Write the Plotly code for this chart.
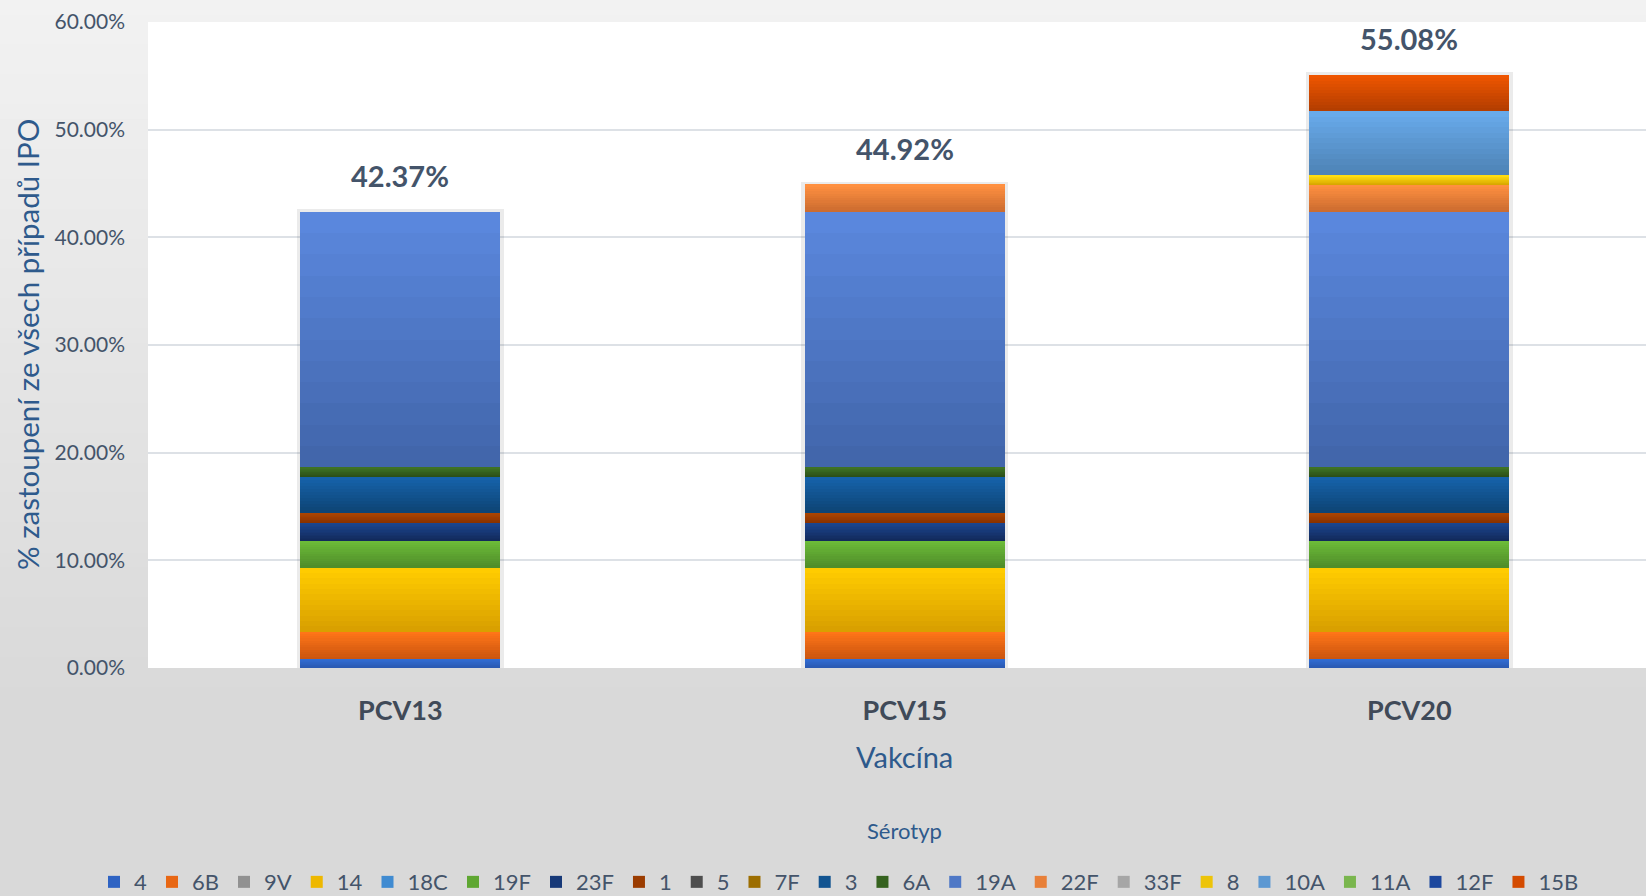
import plotly.graph_objects as go

# ---------------- data ----------------
categories = ["PCV13", "PCV15", "PCV20"]
serotypes = ["4", "6B", "9V", "14", "18C", "19F", "23F", "1", "5", "7F",
             "3", "6A", "19A", "22F", "33F", "8", "10A", "11A", "12F", "15B"]
# % share of all IPD cases, per serotype (same order as serotypes)
pcv13 = [0.85, 2.54, 0.0, 5.93, 0.0, 2.54, 1.69, 0.85, 0.0, 0.0,
         3.39, 0.85, 23.73, 0.0, 0.0, 0.0, 0.0, 0.0, 0.0, 0.0]
pcv15 = [0.85, 2.54, 0.0, 5.93, 0.0, 2.54, 1.69, 0.85, 0.0, 0.0,
         3.39, 0.85, 23.73, 2.54, 0.0, 0.0, 0.0, 0.0, 0.0, 0.0]
pcv20 = [0.85, 2.54, 0.0, 5.93, 0.0, 2.54, 1.69, 0.85, 0.0, 0.0,
         3.39, 0.85, 23.73, 2.54, 0.0, 0.85, 5.93, 0.0, 0.0, 3.39]
total_labels = ["42.37%", "44.92%", "55.08%"]

# gradient colours (top, bottom) per serotype
top_colors = ["#316cd2", "#ff7518", "#a0a0a0", "#ffcc00", "#4a9ae0", "#6cbb38",
              "#1c4690", "#aa4400", "#5a5a5a", "#ad7b00", "#1662aa", "#3e7224",
              "#5a87dd", "#ff9040", "#b4b4b4", "#ffdc10", "#68aaea", "#88c85a",
              "#2252b0", "#ee5500"]
bottom_colors = ["#2a58b0", "#cc560f", "#7f7f7f", "#d9a000", "#3479c0", "#508e2a",
                 "#122a5c", "#8a3200", "#404040", "#8a5e00", "#0d4474", "#2c5018",
                 "#4266ab", "#cc6c30", "#969696", "#d8a800", "#4e83b6", "#6aa040",
                 "#183c88", "#b43e00"]


def hex2rgb(h):
    h = h.lstrip("#")
    return tuple(int(h[i:i + 2], 16) for i in (0, 2, 4))


def mix(c1, c2, t):
    a, b = hex2rgb(c1), hex2rgb(c2)
    return "rgb(%d,%d,%d)" % tuple(round(a[i] + (b[i] - a[i]) * t) for i in range(3))


K = 12          # slices per segment to emulate vertical gradient
BAR_W = 0.396
FONT = "Lato"
SLATE = "#44546a"
BLUE = "#2e5a8c"

PL, PT, PB, W, H = 148, 22, 228, 1646, 896
pw, ph = W - PL, H - PT - PB


def px_x(x):  # pixel x -> paper x
    return (x - PL) / pw


def px_y(y):  # pixel y (from top) -> paper y
    return (H - PB - y) / ph


fig = go.Figure()

rows = list(zip(pcv13, pcv15, pcv20))
totals = [sum(v) for v in (pcv13, pcv15, pcv20)]

# soft shadow behind each stacked bar
fig.add_trace(go.Bar(x=categories, y=[t + 0.25 for t in totals], base=0,
                     width=BAR_W + 0.014, marker=dict(color="rgba(0,0,0,0.08)", line_width=0),
                     showlegend=False, hoverinfo="skip"))

cum = [0.0, 0.0, 0.0]
for i, name in enumerate(serotypes):
    vals = rows[i]
    for j in range(K):
        t = j / (K - 1)  # 0 = bottom slice, 1 = top slice
        color = mix(bottom_colors[i], top_colors[i], t)
        fig.add_trace(go.Bar(
            x=categories,
            y=[v / K for v in vals],
            base=[cum[c] + vals[c] * j / K for c in range(3)],
            width=BAR_W,
            name=name,
            legendgroup=name,
            showlegend=(j == K // 2),
            marker=dict(color=color, line_width=0),
            hovertemplate="%{x}<br>" + name + ": " + "%{customdata:.2f}%<extra></extra>",
            customdata=list(vals),
        ))
    cum = [cum[c] + vals[c] for c in range(3)]

# background gradient (paper) and white plot area
shapes = []
N = 60
for s in range(N):
    y0px = H * s / N
    y1px = H * (s + 1) / N
    t = min(1.0, (y0px + y1px) / 2 / 700.0)
    col = mix("#f2f2f2", "#d9d9d9", t)
    shapes.append(dict(type="rect", xref="paper", yref="paper", layer="below",
                       x0=px_x(0), x1=1.0,
                       y0=px_y(y1px) - 0.0005, y1=px_y(y0px) + 0.0005,
                       fillcolor=col, line_width=0))
shapes.append(dict(type="rect", xref="paper", yref="paper", layer="below",
                   x0=0, x1=1, y0=0, y1=1, fillcolor="white", line_width=0))

annotations = []
for c in range(3):
    annotations.append(dict(x=categories[c], y=totals[c], xref="x", yref="y",
                            text="<b>%s</b>" % total_labels[c], showarrow=False,
                            yshift=36, font=dict(family=FONT, size=29, color=SLATE)))
annotations.append(dict(x=px_x(27), y=0.5, xref="paper", yref="paper",
                        text="% zastoupení ze všech případů IPO", textangle=-90,
                        showarrow=False, xanchor="center", yanchor="middle",
                        font=dict(family=FONT, size=29.5, color=BLUE)))
annotations.append(dict(x=px_x(905), y=px_y(756), xref="paper", yref="paper",
                        text="Vakcína", showarrow=False, xanchor="center", yanchor="middle",
                        font=dict(family=FONT, size=29, color=BLUE)))
annotations.append(dict(x=px_x(905), y=px_y(830), xref="paper", yref="paper",
                        text="Sérotyp", showarrow=False, xanchor="center", yanchor="middle",
                        font=dict(family=FONT, size=22, color=BLUE)))

fig.update_layout(
    width=W, height=H,
    margin=dict(l=PL, r=0, t=PT, b=PB, autoexpand=False),
    paper_bgcolor="#e6e6e6",
    plot_bgcolor="rgba(0,0,0,0)",
    barmode="overlay",
    bargap=0,
    font=dict(family=FONT, color=SLATE),
    shapes=shapes,
    annotations=annotations,
    showlegend=True,
    legend=dict(orientation="h", xref="container", yref="container",
                x=94 / W, xanchor="left", y=0.039, yanchor="top",
                bgcolor="rgba(0,0,0,0)", font=dict(family=FONT, size=22, color=SLATE),
                traceorder="normal", itemclick=False),
    xaxis=dict(range=[-0.5, 2.469], showgrid=False, zeroline=False, showline=False,
               ticks="", ticklabelstandoff=24,
               tickfont=dict(family=FONT, size=27, color="#404a58", weight="bold")),
    yaxis=dict(range=[0, 60], dtick=10, tickformat=".2f", ticksuffix="%",
               showgrid=True, gridcolor="#dde1e6", gridwidth=2, zeroline=False,
               showline=False, ticks="", ticklabelstandoff=22,
               tickfont=dict(family=FONT, size=21, color=SLATE)),
)

fig.write_html("out.html", config={"displayModeBar": False},
               post_script="document.body.style.margin='0';document.body.style.overflow='hidden';")
